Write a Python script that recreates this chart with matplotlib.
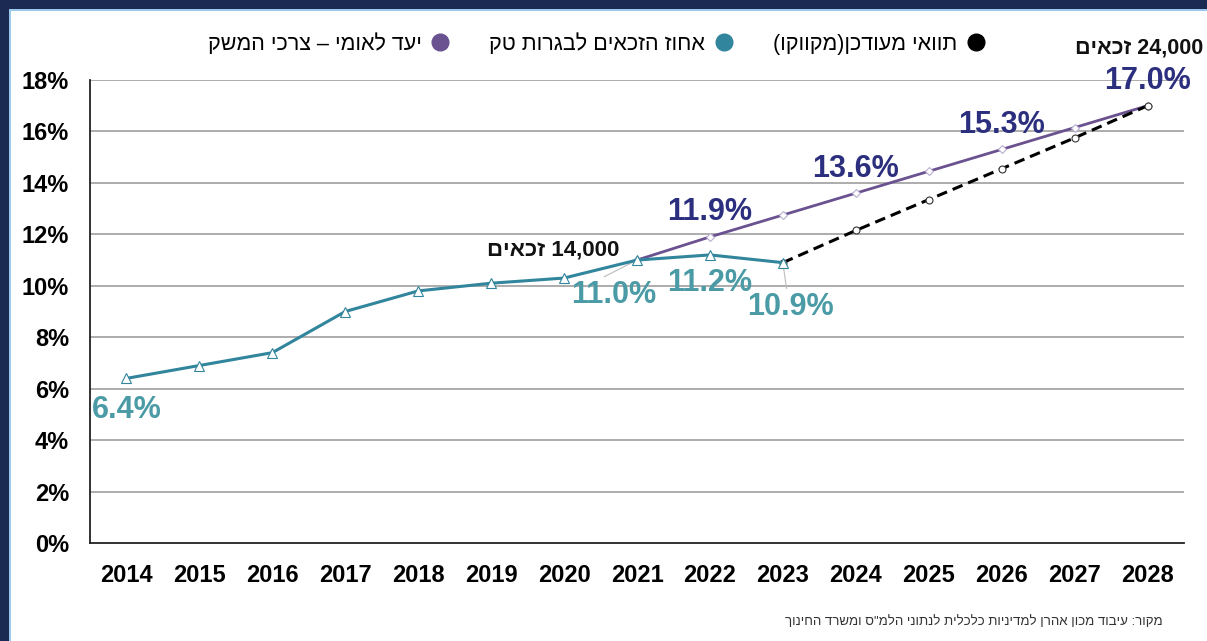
import re
import matplotlib
matplotlib.use("Agg")
import matplotlib.pyplot as plt
from matplotlib.patches import Rectangle
from matplotlib.lines import Line2D

# ---------------- data ----------------
years = ["2014", "2015", "2016", "2017", "2018", "2019", "2020", "2021",
         "2022", "2023", "2024", "2025", "2026", "2027", "2028"]
eligible_pct = [6.4, 6.9, 7.4, 9.0, 9.8, 10.1, 10.3, 11.0, 11.2, 10.9]          # 2014-2023
target_years = years[7:]
target_pct = [11.0, 11.9, 12.75, 13.6, 14.45, 15.3, 16.15, 17.0]                # 2021-2028
updated_years = years[9:]
updated_pct = [10.9, 12.15, 13.35, 14.55, 15.75, 17.0]                           # 2023-2028
yticks = [0, 2, 4, 6, 8, 10, 12, 14, 16, 18]

legend_labels = ["יעד לאומי – צרכי המשק", "אחוז הזכאים לבגרות טק", "תוואי מעודכן(מקווקו)"]
note_14k = "14,000 זכאים"
note_24k = "24,000 זכאים"
source_text = 'מקור: עיבוד מכון אהרן למדיניות כלכלית לנתוני הלמ"ס ומשרד החינוך'

TEAL = "#31859c"
TEAL_LBL = "#4a9ba6"
PURPLE = "#6a5190"
NAVY_LBL = "#2b2f7e"
FONT = "Liberation Sans"


def vis(s):
    """Convert logical-order Hebrew text into visual (left-to-right) order."""
    mirror = {"(": ")", ")": "("}
    tokens = re.findall(r"[0-9][0-9,\.%]*|[A-Za-z]+|.", s)
    out = []
    for t in reversed(tokens):
        if len(t) == 1 and not t.isdigit():
            out.append(mirror.get(t, t))
        else:
            out.append(t)
    return "".join(out)


fig = plt.figure(figsize=(12.07, 6.41), dpi=100)
W, H = 1207, 641

# frame: navy border left/top with light-blue inner edge
fig.patches.append(Rectangle((0, 0), 1, 1, transform=fig.transFigure,
                             facecolor="#1b2a52", edgecolor="none", zorder=-10))
fig.patches.append(Rectangle((9 / W, 0), 1, 1 - 9 / H, transform=fig.transFigure,
                             facecolor="#9cc8ee", edgecolor="none", zorder=-9))
fig.patches.append(Rectangle((11 / W, 0), 1, 1 - 11 / H, transform=fig.transFigure,
                             facecolor="white", edgecolor="none", zorder=-8))

ax = fig.add_axes([90 / W, 1 - 543 / H, (1184 - 90) / W, (543 - 80) / H])
ax.set_facecolor("none")

xi = {y: i for i, y in enumerate(years)}
x_el = [xi[y] for y in years[:len(eligible_pct)]]
x_tg = [xi[y] for y in target_years]
x_up = [xi[y] for y in updated_years]

for v in yticks[1:]:
    ax.axhline(v, color="#a6a6a6", lw=1.3, zorder=0)

ax.plot(x_tg, target_pct, color=PURPLE, lw=2, marker="D", ms=4,
        mfc="white", mec="#b9aed0", mew=0.8, zorder=3)
ax.plot(x_up, updated_pct, color="black", lw=2.2, ls=(0, (3.5, 2)), marker="o",
        ms=5, mfc="white", mec="#333333", mew=0.8, zorder=4)
ax.plot(x_el, eligible_pct, color=TEAL, lw=2.2, marker="^", ms=7,
        mfc="white", mec=TEAL, mew=0.8, zorder=5)

ax.set_xlim(-0.5, len(years) - 0.5)
ax.set_ylim(0, 18)
ax.set_yticks(yticks)
ax.set_yticklabels([f"{v}%" for v in yticks])
ax.set_xticks(range(len(years)))
ax.set_xticklabels(years)
ax.tick_params(length=0, labelsize=17)
ax.tick_params(axis="x", pad=15)
ax.tick_params(axis="y", pad=15)
for lab in ax.get_xticklabels() + ax.get_yticklabels():
    lab.set_fontweight("bold")
    lab.set_fontfamily(FONT)
for s in ["top", "right"]:
    ax.spines[s].set_visible(False)
ax.spines["left"].set_color("#222222")
ax.spines["bottom"].set_color("#222222")
ax.spines["left"].set_linewidth(1.3)
ax.spines["bottom"].set_linewidth(1.3)

lbl_kw = dict(fontsize=22, fontweight="bold", fontfamily=FONT, ha="center", va="center", zorder=6)

# teal labels
ax.text(xi["2014"], eligible_pct[0] - 1.23, f"{eligible_pct[0]:.1f}%", color=TEAL_LBL, **lbl_kw)
i21, i22, i23 = xi["2021"], xi["2022"], xi["2023"]
ax.plot([i21, i21 - 0.45], [eligible_pct[i21], eligible_pct[i21] - 0.65], color="#bbbbbb", lw=0.8, zorder=2)
ax.text(i21 - 0.32, eligible_pct[i21] - 1.36, f"{eligible_pct[i21]:.1f}%", color=TEAL_LBL, **lbl_kw)
ax.text(i22, eligible_pct[i22] - 1.1, f"{eligible_pct[i22]:.1f}%", color=TEAL_LBL, **lbl_kw)
ax.plot([i23, i23 + 0.05], [eligible_pct[i23], eligible_pct[i23] - 1.0], color="#bbbbbb", lw=0.8, zorder=2)
ax.text(i23 + 0.1, eligible_pct[i23] - 1.72, f"{eligible_pct[i23]:.1f}%", color=TEAL_LBL, **lbl_kw)

# purple / navy labels
for y in ["2022", "2024", "2026", "2028"]:
    j = target_years.index(y)
    ax.text(xi[y], target_pct[j] + 0.95, f"{target_pct[j]:.1f}%", color=NAVY_LBL, **lbl_kw)

note_kw = dict(fontsize=16, fontweight="bold", fontfamily=FONT, color="#111111",
               ha="center", va="center", zorder=6)
ax.text(i21 - 1.15, 11.4, vis(note_14k), **note_kw)
ax.text(xi["2028"] - 0.12, 19.25, vis(note_24k), clip_on=False,
        **{**note_kw, "fontsize": 15.5})

# legend (right-to-left, marker to the right of text)
handles = [Line2D([], [], ls="none", marker="o", ms=12, color=c)
           for c in [PURPLE, TEAL, "black"]]
leg = fig.legend(handles, [vis(t) for t in legend_labels], ncol=3,
                 loc="center", bbox_to_anchor=(596 / W, 1 - 44 / H),
                 frameon=False, markerfirst=False, handletextpad=0.45,
                 handlelength=0.8, columnspacing=1.9,
                 prop={"family": FONT, "size": 15.5})

fig.text(1163 / W, 1 - 622 / H, vis(source_text), ha="right", va="center",
         fontsize=9.5, fontfamily=FONT, color="#333333")

fig.savefig("out.png", dpi=100)
